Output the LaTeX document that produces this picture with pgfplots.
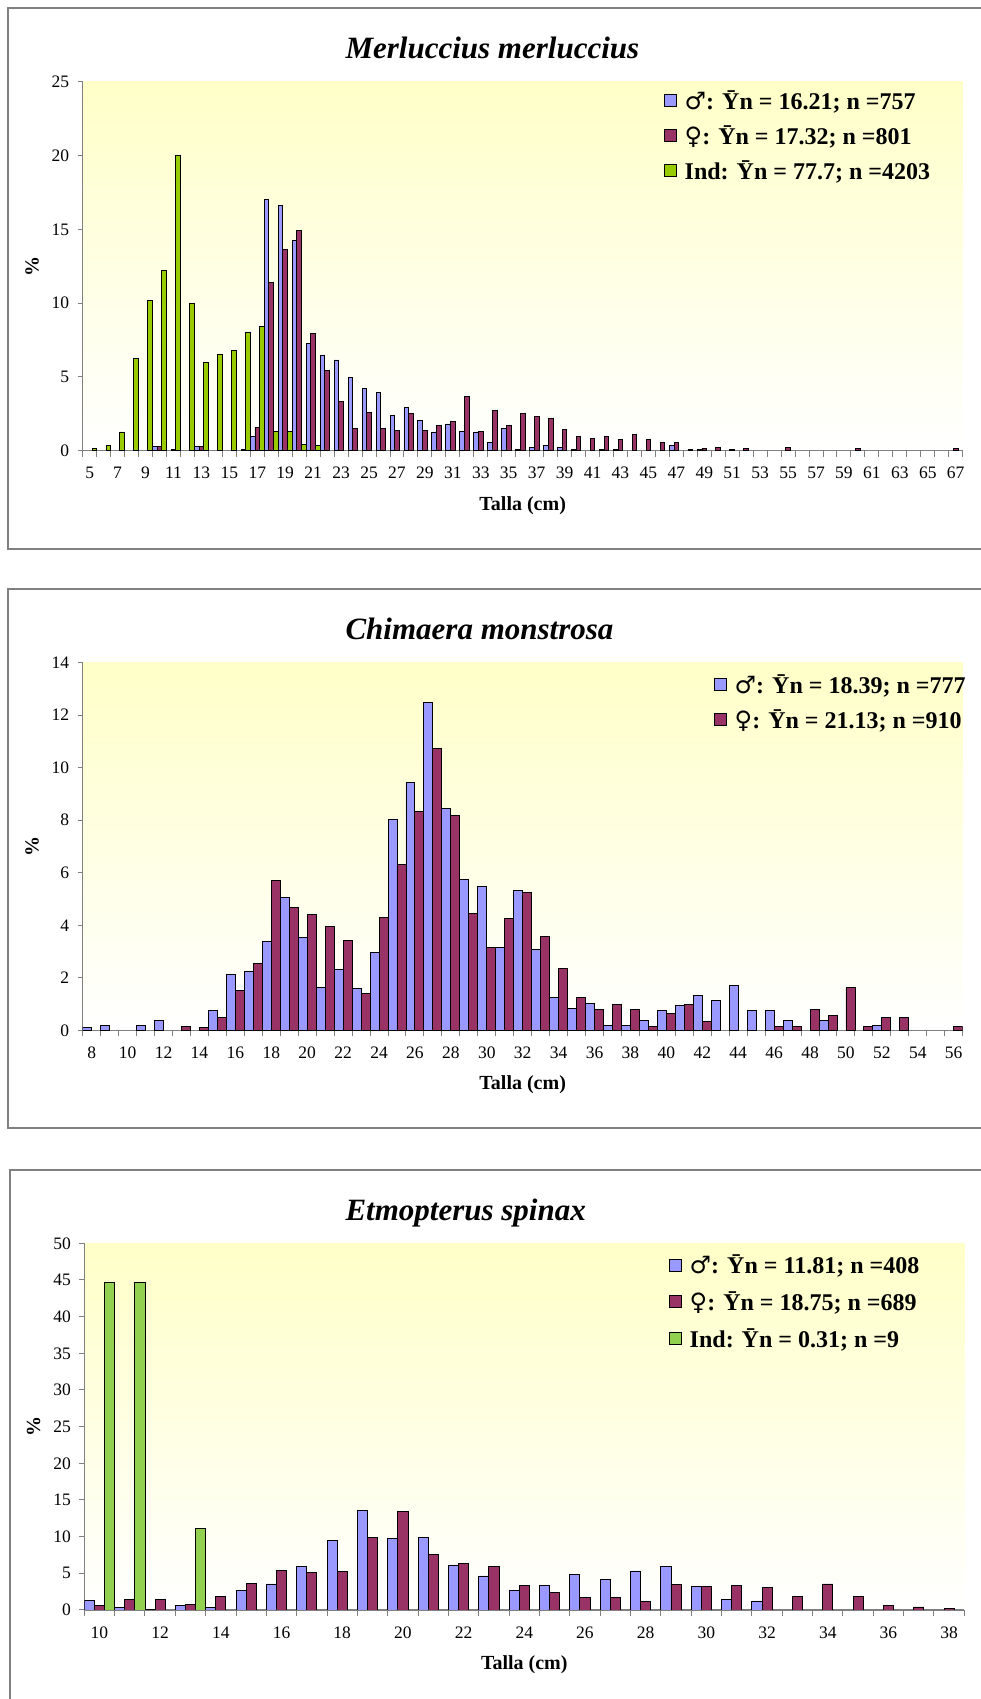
\documentclass[border=0pt]{standalone}
\usepackage{pgfplots}
\pgfplotsset{compat=1.18}
\usepackage{fontspec}
\setmainfont{Liberation Serif}
\newfontfamily\symfont{DejaVu Sans}
\definecolor{cmale}{HTML}{9999FF}
\definecolor{cfem}{HTML}{993366}
\definecolor{cind}{HTML}{99CC00}
\definecolor{cindb}{HTML}{92D050}
\definecolor{bgy}{HTML}{FFFFC8}
\definecolor{axgray}{HTML}{808080}
\newcommand{\M}{{\symfont\mdseries ♂}}
\newcommand{\F}{{\symfont\mdseries ♀}}
\newcommand{\Yb}{Ȳ}
\pgfplotsset{
  chart/.style={
    scale only axis, width=880pt,
    ybar, bar width=0.3333,
    axis x line*=bottom, axis y line*=left,
    axis line style={axgray, line width=1.3pt, -},
    ymin=0,
    tick align=outside,
    major tick length=5pt, minor tick length=6pt,
    tick style={axgray, line width=1pt},
    major x tick style={draw=none},
    /pgf/number format/assume math mode=true,
    tick label style={font=\fontsize{17.5}{19}\selectfont},
    xticklabel style={yshift=-8pt},
    yticklabel style={xshift=-5pt},
    ylabel={\%},
    ylabel style={font=\bfseries\fontsize{20}{22}\selectfont, at={(axis description cs:-0.0576,0.5)}, anchor=center},
    xlabel={Talla (cm)},
    xlabel style={font=\bfseries\fontsize{20}{22}\selectfont, at={(axis description cs:0.5,-0.148)}, anchor=center},
    axis background/.style={top color=bgy, bottom color=white},
    legend image code/.code={\draw[##1, draw=black, line width=0.9pt] (0pt,-6pt) rectangle (12pt,6pt);},
    legend style={draw=none, fill=none, font=\bfseries\fontsize{24}{28}\selectfont, anchor=north west, cells={anchor=west}, row sep=10.5pt, column sep=6pt},
    title style={font=\bfseries\itshape\fontsize{31}{36}\selectfont, anchor=base west},
  },
  mb/.style={fill=cmale, draw=black, line width=0.9pt},
  fb/.style={fill=cfem, draw=black, line width=0.9pt},
  ib/.style={fill=#1, draw=black, line width=0.9pt},
}
\begin{document}
\begin{tikzpicture}
\useasboundingbox (0pt,0pt) rectangle (980pt,1699pt);
\draw[axgray, line width=2pt] (8pt,1150pt) rectangle (1020pt,1690.7pt);
\draw[axgray, line width=2pt] (8pt,570.7pt) rectangle (1020pt,1110.3pt);
\draw[axgray, line width=2pt] (9.5pt,-20pt) rectangle (1020pt,528.7pt);

% Panel 1
\begin{axis}[chart, at={(82.7pt,1248.3pt)}, anchor=south west, height=368.7pt,
  xmin=4.5, xmax=67.5, ymax=25, ytick={0,5,...,25},
  xtick={5,7,...,67}, minor xtick={4.5,5.5,...,67.5},
  title={Merluccius merluccius},
  title style={at={(axis description cs:0.2947,1.047)}},
  legend style={at={(axis description cs:0.6567,0.988)}}]
\addplot[mb, bar shift=-0.3333] coordinates {
(10,0.27) (13,0.27) (17,0.97) (18,17.04) (19,16.61) (20,14.26) (21,7.30) (22,6.49)
(23,6.15) (24,4.97) (25,4.25) (26,3.95) (27,2.40) (28,2.92) (29,2.06) (30,1.27)
(31,1.81) (32,1.31) (33,1.27) (34,0.56) (35,1.49) (36,0.10) (37,0.20) (38,0.34)
(39,0.23) (40,0.10) (42,0.10) (43,0.10) (47,0.34) (49,0.10)};
\addlegendentry{\M: \Yb n = 16.21; n =757}
\addplot[fb, bar shift=0] coordinates {
(10,0.27) (11,0.10) (13,0.27) (16,0.10) (17,1.58) (18,11.41) (19,13.63) (20,14.94)
(21,7.93) (22,5.47) (23,3.32) (24,1.49) (25,2.58) (26,1.49) (27,1.40) (28,2.53)
(29,1.40) (30,1.69) (31,1.99) (32,3.68) (33,1.31) (34,2.71) (35,1.72) (36,2.51)
(37,2.30) (38,2.17) (39,1.45) (40,0.95) (41,0.84) (42,0.97) (43,0.79) (44,1.08)
(45,0.77) (46,0.56) (47,0.56) (48,0.10) (49,0.18) (50,0.23) (51,0.10) (52,0.18)
(55,0.20) (60,0.13) (67,0.13)};
\addlegendentry{\F: \Yb n = 17.32; n =801}
\addplot[ib=cind, bar shift=0.3333] coordinates {
(5,0.15) (6,0.35) (7,1.27) (8,6.26) (9,10.19) (10,12.25) (11,20.00) (12,9.99)
(13,5.99) (14,6.51) (15,6.82) (16,8.05) (17,8.43) (18,1.29) (19,1.29) (20,0.41) (21,0.36)};
\addlegendentry{Ind: \Yb n = 77.7; n =4203}
\end{axis}

% Panel 2
\begin{axis}[chart, at={(82.7pt,668.7pt)}, anchor=south west, height=367.6pt,
  xmin=7.5, xmax=56.5, ymax=14, ytick={0,2,...,14},
  xtick={8,10,...,56}, minor xtick={7.5,8.5,...,56.5},
  bar width=0.5,
  title={Chimaera monstrosa},
  title style={at={(axis description cs:0.2947,1.047)}},
  legend style={at={(axis description cs:0.7135,0.979)}}]
\addplot[mb, bar shift=-0.25] coordinates {
(8,0.10) (9,0.18) (11,0.18) (12,0.37) (15,0.77) (16,2.14) (17,2.23) (18,3.40)
(19,5.05) (20,3.54) (21,1.62) (22,2.30) (23,1.59) (24,2.96) (25,8.03) (26,9.44)
(27,12.47) (28,8.44) (29,5.75) (30,5.49) (31,3.16) (32,5.33) (33,3.06) (34,1.24)
(35,0.84) (36,1.03) (37,0.18) (38,0.18) (39,0.38) (40,0.75) (41,0.93) (42,1.31)
(43,1.13) (44,1.69) (45,0.75) (46,0.75) (47,0.38) (49,0.38) (52,0.18)};
\addlegendentry{\M: \Yb n = 18.39; n =777}
\addplot[fb, bar shift=0.25] coordinates {
(13,0.15) (14,0.09) (15,0.49) (16,1.52) (17,2.55) (18,5.71) (19,4.67) (20,4.42)
(21,3.95) (22,3.41) (23,1.40) (24,4.29) (25,6.32) (26,8.32) (27,10.74) (28,8.17)
(29,4.44) (30,3.16) (31,4.26) (32,5.24) (33,3.58) (34,2.34) (35,1.24) (36,0.81)
(37,0.98) (38,0.81) (39,0.15) (40,0.65) (41,0.98) (42,0.32) (46,0.15) (47,0.15)
(48,0.81) (49,0.57) (50,1.62) (51,0.15) (52,0.48) (53,0.48) (56,0.15)};
\addlegendentry{\F: \Yb n = 21.13; n =910}
\end{axis}

% Panel 3
\begin{axis}[chart, at={(84.3pt,89pt)}, anchor=south west, height=366.7pt,
  xmin=9.5, xmax=38.5, ymax=50, ytick={0,5,...,50},
  xtick={10,12,...,38}, minor xtick={9.5,10.5,...,38.5},
  title={Etmopterus spinax},
  title style={at={(axis description cs:0.2928,1.047)}},
  legend style={at={(axis description cs:0.6606,0.980)}, row sep=12.5pt}]
\addplot[mb, bar shift=-0.3333] coordinates {
(10,1.36) (11,0.32) (12,0.10) (13,0.59) (14,0.32) (15,2.68) (16,3.55) (17,5.91)
(18,9.45) (19,13.59) (20,9.77) (21,9.95) (22,6.14) (23,4.64) (24,2.68) (25,3.32)
(26,4.86) (27,4.18) (28,5.32) (29,5.91) (30,3.23) (31,1.41) (32,1.23)};
\addlegendentry{\M: \Yb n = 11.81; n =408}
\addplot[fb, bar shift=0] coordinates {
(10,0.68) (11,1.45) (12,1.45) (13,0.77) (14,1.86) (15,3.59) (16,5.36) (17,5.09)
(18,5.23) (19,9.95) (20,13.45) (21,7.59) (22,6.36) (23,5.91) (24,3.32) (25,2.36)
(26,1.77) (27,1.68) (28,1.14) (29,3.50) (30,3.18) (31,3.36) (32,3.09) (33,1.86)
(34,3.55) (35,1.86) (36,0.59) (37,0.41) (38,0.27)};
\addlegendentry{\F: \Yb n = 18.75; n =689}
\addplot[ib=cindb, bar shift=0.3333] coordinates {(10,44.6) (11,44.6) (13,11.18)};
\addlegendentry{Ind: \Yb n = 0.31; n =9}
\end{axis}
\end{tikzpicture}
\end{document}
